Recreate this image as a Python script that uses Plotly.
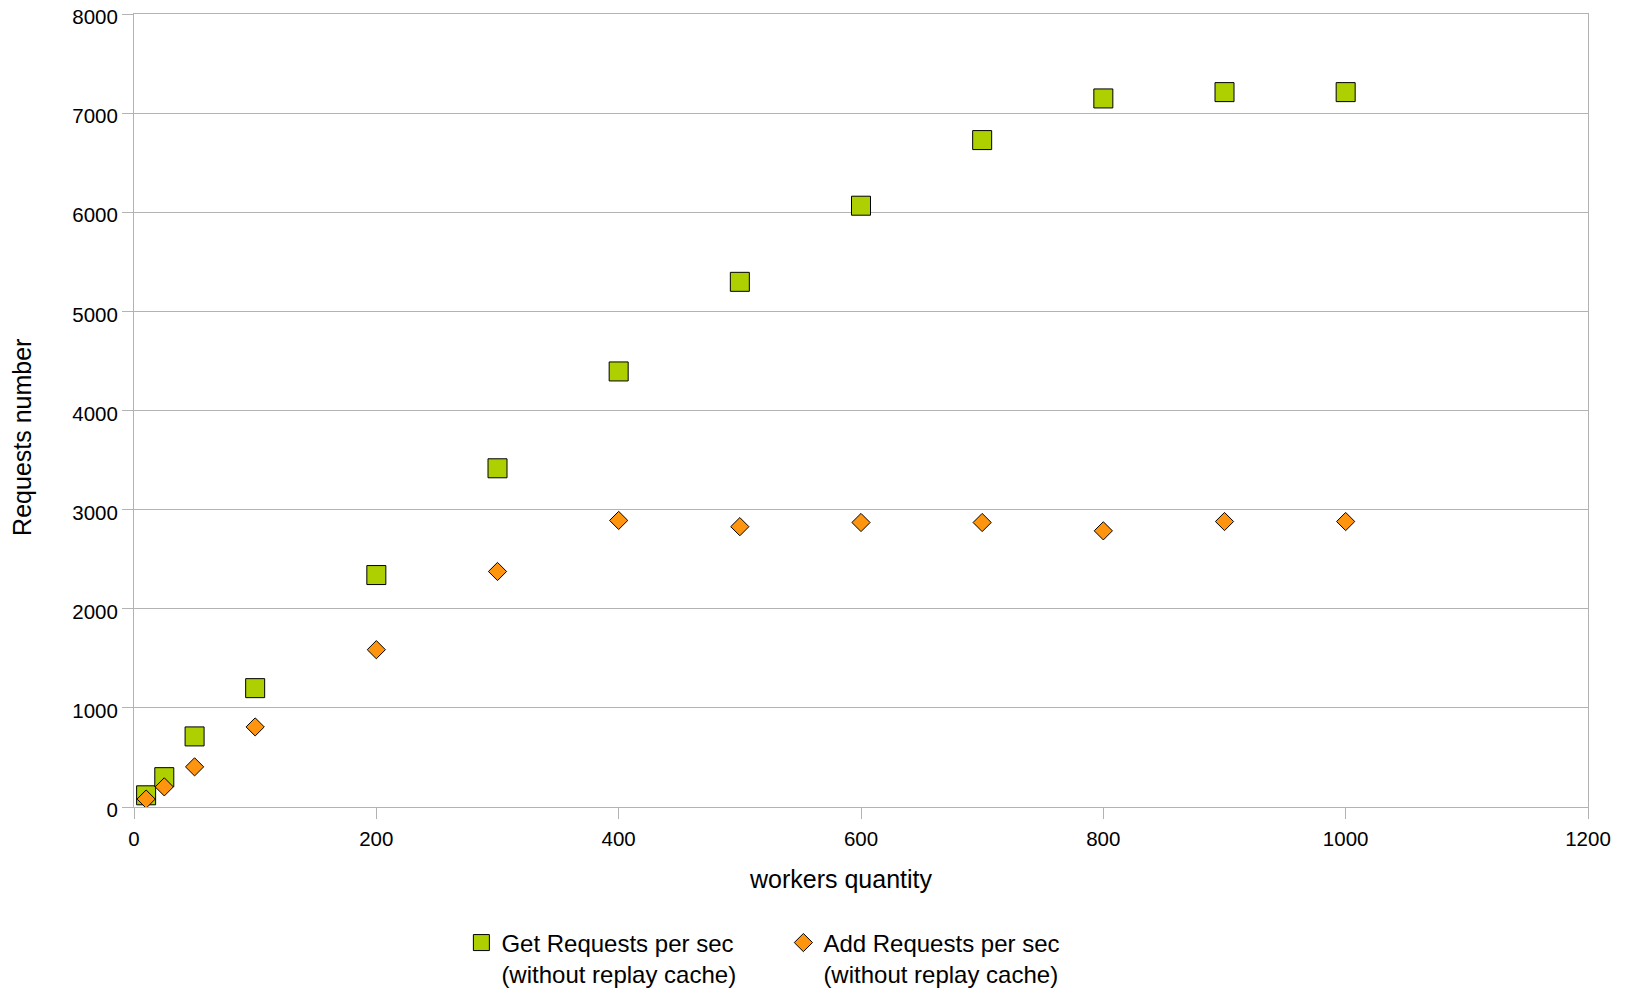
import plotly.graph_objects as go

workers = [10, 25, 50, 100, 200, 300, 400, 500, 600, 700, 800, 900, 1000]
get_requests = [118, 301, 712, 1199, 2340, 3417, 4394, 5298, 6066, 6728, 7148, 7212, 7212]
add_requests = [80, 203, 405, 808, 1587, 2376, 2891, 2828, 2870, 2870, 2786, 2880, 2880]

x_ticks = [0, 200, 400, 600, 800, 1000, 1200]
y_ticks = [0, 1000, 2000, 3000, 4000, 5000, 6000, 7000, 8000]

x_title = "workers quantity"
y_title = "Requests number"

GRID = "#b3b3b3"
FONT = "Liberation Sans, Arial, sans-serif"

fig = go.Figure()
fig.add_trace(go.Scatter(
    x=workers, y=get_requests, mode="markers",
    name="Get Requests per sec<br>(without replay cache)",
    marker=dict(symbol="square", size=19, color="#aecf00",
                line=dict(color="#000000", width=1)),
))
fig.add_trace(go.Scatter(
    x=workers, y=add_requests, mode="markers",
    name="Add Requests per sec<br>(without replay cache)",
    marker=dict(symbol="diamond", size=14, color="#ff950e",
                line=dict(color="#000000", width=1)),
))

fig.update_layout(
    width=1625, height=984,
    margin=dict(l=126, r=45, t=6, b=185),
    paper_bgcolor="white", plot_bgcolor="white",
    font=dict(family=FONT, size=20.5, color="#000000"),
    showlegend=True,
    legend=dict(
        orientation="h", xref="container", yref="container",
        x=0.279, y=0.0727, xanchor="left", yanchor="top",
        font=dict(family=FONT, size=24, color="#000000"),
        valign="top", itemwidth=30, entrywidth=277, tracegroupgap=0,
    ),
    xaxis=dict(
        range=[0, 1200], tickvals=x_ticks, ticktext=[str(v) for v in x_ticks],
        showgrid=False, zeroline=False, automargin=False,
        showline=True, linecolor=GRID, linewidth=1, mirror=True,
        ticks="outside", ticklen=11, tickcolor=GRID, tickwidth=1,
        tickfont=dict(size=20.5), ticklabeloverflow="allow", ticklabelstandoff=2,
    ),
    yaxis=dict(
        range=[0, 8000], tickvals=y_ticks, ticktext=[str(v) for v in y_ticks],
        showgrid=True, gridcolor=GRID, gridwidth=1, zeroline=False, automargin=False,
        showline=True, linecolor=GRID, linewidth=1, mirror=True,
        ticks="outside", ticklen=11, tickcolor=GRID, tickwidth=1,
        tickfont=dict(size=20.5), ticklabeloverflow="allow", ticklabelshift=3,
    ),
    annotations=[
        dict(text=x_title, xref="paper", yref="paper", x=0.486, y=-0.0908,
             xanchor="center", yanchor="middle", showarrow=False,
             font=dict(family=FONT, size=25, color="#000000")),
        dict(text=y_title, xref="paper", yref="paper", x=-0.0771, y=0.4666,
             xanchor="center", yanchor="middle", showarrow=False, textangle=-90,
             font=dict(family=FONT, size=25, color="#000000")),
    ],
)

fig.write_html("out.html")
